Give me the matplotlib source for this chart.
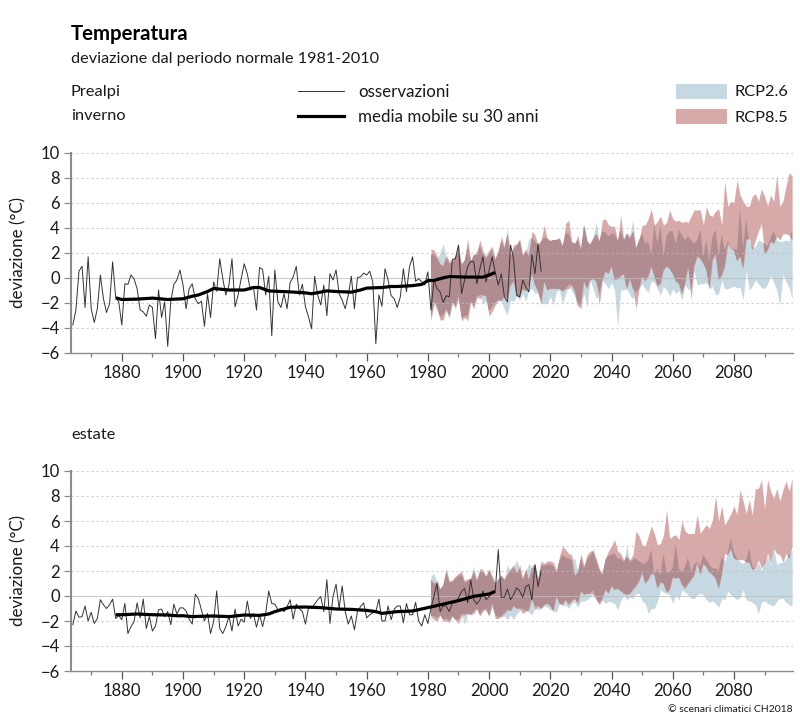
#!/usr/bin/env python3
"""Temperature deviation chart for the Prealps, winter and summer."""
import matplotlib
matplotlib.use("Agg")
import matplotlib.pyplot as plt
import numpy as np
from matplotlib.patches import Rectangle
from matplotlib.lines import Line2D

plt.rcParams["font.family"] = ["Lato", "DejaVu Sans"]

OBS_YEARS = np.arange(1864, 2018)
BAND_YEARS = np.arange(1981, 2100)

# winter observations, 1864-2017
WINTER_OBS = [
    -3.8, -2.6, 0.5, 0.9, -2.4, 1.65,
    -2.5, -3.6, -2.5, 0.2, -1.7, -2.8, -2.1, 1.25, -1.6, -1.95,
    -3.8, -0.5, -0.55, 0.2, -0.1, -0.9, -2.6, -2.75, -3.1, -2.2,
    -2.4, -4.9, -1.0, -3.2, -1.95, -5.5, -1.9, -0.55, -0.2, 0.6,
    -0.6, -2.5, -0.9, -0.5, -1.7, -2.1, -1.9, -3.9, -1.3, -3.2,
    -0.35, -1.1, 1.5, -0.1, -1.4, -0.6, 1.5, -2.35, -1.4, -0.1,
    1.1, 0.3, -1.0, -0.75, -2.6, 0.8, 0.65, -1.4, 0.1, -4.65,
    0.6, -1.95, -2.4, -1.3, -2.5, -0.4, 0.05, 0.9, -1.4, -0.55,
    -2.35, -3.15, -4.1, 0.1, -1.4, -2.2, -0.6, -3.05, 0.3, -0.2,
    0.6, -1.3, -1.8, -2.5, -1.4, 0.1, -2.5, 0.0, 0.05, 0.35,
    0.2, 0.5, -0.35, -5.3, -1.4, -2.3, 0.7, -0.2, -1.45, -1.7,
    -2.4, -1.55, 0.7, -1.15, 0.85, 1.65, -0.3, -0.1, -0.35, -0.6,
    0.45, -2.6, -0.2, -0.9, -1.15, -2.0, -1.45, -1.55, 1.45, 1.5,
    2.6, -1.3, -0.2, 0.85, 1.3, 1.25, -0.5, 0.7, 1.65, -0.35,
    0.6, 1.65, 0.45, -0.6, 0.3, -1.55, -1.95, 2.6, 1.5, -1.4,
    -1.55, -0.2, -0.75, -1.15, 1.85, 0.3, 2.7, 0.5,
]
WINTER_MEAN_YEARS = [
    1878, 1880, 1885, 1890, 1895, 1900, 1903, 1905, 1908, 1910, 1915, 1920,
    1923, 1925, 1928, 1930, 1935, 1940, 1942, 1945, 1947, 1950, 1955, 1958,
    1960, 1965, 1968, 1970, 1975, 1978, 1980, 1982, 1985, 1987, 1990, 1993,
    1995, 1998, 2000, 2002,
]
WINTER_MEAN = [
    -1.63, -1.76, -1.73, -1.65, -1.76, -1.7, -1.5, -1.4, -1.12, -0.88, -1.0, -1.0,
    -0.8, -0.8, -1.07, -1.1, -1.15, -1.23, -1.3, -1.17, -1.07, -1.12, -1.17, -1.0,
    -0.85, -0.8, -0.72, -0.72, -0.65, -0.55, -0.25, -0.23, -0.03, 0.07, 0.05, 0.03,
    0.03, 0.03, 0.2, 0.4,
]
WINTER_R85_HI = [
    2.3, 2.2, 1.7, 1.1, 0.9, 1.8, 1.3, 1.4, 1.8, 2.6,
    1.0, 1.5, 3.1, 1.4, 1.8, 2.1, 3.0, 2.1, 1.7, 2.2,
    2.5, 1.5, 2.1, 3.3, 2.5, 3.5, 1.8, 2.6, 2.7, 3.1,
    1.8, 2.3, 1.7, 3.7, 3.4, 2.6, 3.0, 4.2, 3.1, 2.9,
    3.0, 3.0, 3.1, 2.5, 4.3, 4.6, 2.9, 2.7, 3.4, 2.2,
    4.2, 3.0, 2.6, 3.1, 3.5, 2.9, 4.6, 4.7, 4.2, 4.1,
    4.1, 2.9, 5.0, 3.0, 3.5, 3.1, 3.7, 2.3, 3.0, 4.2,
    4.2, 4.7, 5.5, 4.2, 4.5, 4.9, 4.2, 4.4, 5.4, 4.7,
    4.5, 4.6, 4.4, 4.5, 4.4, 4.9, 5.4, 5.4, 5.4, 4.2,
    5.7, 5.0, 4.9, 5.3, 5.5, 4.2, 7.7, 5.7, 6.1, 6.0,
    7.8, 6.6, 6.1, 5.7, 5.7, 6.5, 6.7, 6.1, 7.1, 6.5,
    5.7, 6.6, 6.1, 8.2, 5.7, 6.1, 7.3, 8.4, 8.1,
]
WINTER_R85_LO = [
    -3.5, -1.9, -2.3, -3.4, -3.4, -2.5, -3.1, -1.9, -2.5, -1.5,
    -3.5, -3.1, -3.5, -1.9, -2.5, -1.5, -1.7, -1.4, -1.5, -3.1,
    -2.7, -2.2, -1.8, -1.9, -1.5, -1.7, -0.6, -0.3, -1.5, -1.5,
    -0.9, -1.1, -0.6, 0.3, -0.6, -1.1, -2.2, -0.3, -1.0, -0.9,
    -0.9, -0.9, -0.9, -1.1, -0.9, -0.9, -0.6, -1.1, -2.2, -2.5,
    -0.3, -0.9, -0.2, -0.1, -0.3, -2.2, -0.2, 0.5, 0.3, 0.9,
    -0.2, -0.1, 0.1, 0.3, -0.9, -0.1, -0.9, -2.5, -0.9, 0.1,
    -0.3, 0.1, 0.9, 0.1, -0.7, -0.5, 0.6, 0.9, 0.7, 0.3,
    -0.3, -0.5, -1.3, -0.5, 0.9, -1.8, 0.9, 1.7, 1.5, 1.1,
    0.6, -0.9, 1.4, 1.9, -0.2, 0.2, 0.9, 2.7, 2.3, 2.2,
    1.3, 1.7, 0.7, 3.0, 3.1, 2.2, 3.0, 3.7, 4.3, 1.9,
    2.2, 2.9, 2.7, 3.3, 3.0, 3.5, 3.5, 3.4, 3.0,
]
WINTER_R26_HI = [
    1.8, 1.9, 1.5, 2.0, 2.7, 1.6, 1.1, 1.2, 1.6, 2.1,
    1.2, 1.3, 2.5, 1.2, 1.9, 1.8, 2.5, 1.9, 1.5, 1.9,
    2.2, 1.4, 2.0, 2.9, 2.3, 4.0, 1.6, 2.3, 2.5, 2.9,
    1.7, 2.1, 3.1, 3.2, 2.9, 2.5, 2.9, 3.2, 3.2, 3.0,
    3.0, 3.1, 3.2, 2.5, 3.5, 3.5, 2.8, 2.7, 3.0, 2.3,
    4.3, 2.9, 2.7, 3.2, 4.4, 2.9, 3.7, 3.6, 3.3, 3.5,
    3.5, 2.9, 3.8, 3.0, 3.6, 3.4, 4.6, 2.4, 3.0, 3.5,
    2.7, 2.9, 1.8, 4.3, 2.7, 4.2, 1.7, 3.3, 3.7, 3.7,
    2.7, 3.8, 3.4, 3.0, 3.3, 3.0, 2.7, 3.0, 3.8, 1.7,
    3.0, 1.3, 3.3, 3.8, 1.7, 3.4, 2.2, 2.9, 2.3, 2.3,
    2.2, 5.5, 2.4, 4.6, 2.9, 2.4, 2.5, 3.0, 2.9, 2.7,
    2.5, 3.2, 3.7, 3.0, 2.9, 2.9, 3.0, 2.9, 3.8,
]
WINTER_R26_LO = [
    -3.3, -2.2, -2.7, -3.2, -3.0, -2.7, -3.3, -2.1, -2.3, -1.8,
    -3.2, -3.3, -3.0, -2.0, -2.3, -1.7, -1.4, -2.1, -1.9, -2.7,
    -2.3, -2.0, -1.9, -1.8, -2.6, -3.0, -1.8, -1.9, -1.5, -1.8,
    -1.3, -1.9, -1.0, -0.9, -1.3, -1.2, -2.0, -2.1, -2.1, -1.5,
    -2.2, -1.1, -1.0, -2.1, -1.3, -0.6, -1.1, -1.5, -2.4, -2.1,
    -1.3, -2.4, -0.2, -0.9, -1.7, -1.3, -0.2, -0.5, -0.9, -0.4,
    -1.0, -3.9, -1.0, -1.0, -0.9, -1.4, -1.7, -1.2, -0.9, -0.5,
    -0.9, -1.2, -0.3, -0.4, -0.9, -1.4, -0.7, -1.0, -1.5, -0.9,
    -1.3, -1.0, -1.8, -0.6, -0.9, -1.0, 0.6, -0.6, -0.5, -0.5,
    -0.4, -0.9, -0.7, -1.4, -1.3, -0.2, -0.9, -0.9, -0.8, -0.7,
    -0.8, -0.8, -1.8, 0.6, -1.0, -0.7, -0.2, -0.5, -0.8, -0.9,
    -0.5, 0.2, -0.4, -1.0, -2.2, 0.3, -0.3, -0.8, -1.7,
]

# summer observations, 1864-2017
SUMMER_OBS = [
    -2.3, -1.2, -1.7, -1.65, -0.8, -2.0,
    -1.3, -2.2, -1.8, -0.3, -0.7, -1.0, -0.7, -0.25, -1.8, -1.55,
    -1.9, -0.6, -3.0, -2.45, -2.05, -0.55, -1.75, -0.25, -2.6, -1.65,
    -2.8, -2.4, -1.1, -1.05, -1.65, -1.25, -2.3, -0.65, -1.45, -0.95,
    -0.95, -1.2, -1.85, -2.25, 0.15, -0.2, -1.1, -2.0, -1.4, -3.0,
    -2.05, 0.4, -2.6, -3.0, -2.45, -1.65, -2.8, -1.05, -2.4, -1.85,
    -2.1, -0.4, -1.8, -1.4, -2.5, -1.5, -2.45, -1.4, 0.4, -0.6,
    -0.65, -1.1, -1.0, -1.25, -0.85, -0.3, -1.85, -0.65, -1.0, -1.25,
    -2.25, -0.95, -0.95, -0.65, -0.3, -0.05, -1.25, 1.3, -2.2, -0.05,
    0.95, -1.0, 0.8, -1.25, -2.25, -1.6, -2.7, -1.25, -0.85, -0.55,
    -1.75, -1.5, -1.35, -1.25, -0.25, -2.0, -2.0, -0.8, -1.9, -1.05,
    -0.8, -0.8, -2.15, -0.6, -1.5, -1.5, -0.5, -2.0, -2.4, -1.5,
    -2.2, -1.0, 0.0, 1.0, -1.25, -0.8, -0.8, -1.25, -0.55, -0.55,
    -0.15, 0.35, 0.6, -0.55, 1.3, -0.3, -0.65, -0.3, 0.4, -0.3,
    -0.05, 0.25, 0.35, 3.7, -0.1, -0.1, 0.55, -0.3, 0.1, 0.65,
    0.4, -0.1, 0.75, 0.9, -0.3, 2.5, 0.75, 2.0,
]
SUMMER_MEAN_YEARS = [
    1878, 1880, 1885, 1890, 1895, 1898, 1900, 1903, 1905, 1910, 1915, 1920,
    1925, 1928, 1930, 1933, 1935, 1940, 1945, 1950, 1955, 1960, 1963, 1965,
    1970, 1975, 1980, 1985, 1990, 1995, 2000, 2002,
]
SUMMER_MEAN = [
    -1.5, -1.5, -1.44, -1.5, -1.52, -1.58, -1.58, -1.65, -1.63, -1.6, -1.65, -1.52,
    -1.55, -1.44, -1.25, -1.04, -0.9, -0.88, -0.93, -1.04, -1.07, -1.15, -1.25, -1.39,
    -1.25, -1.2, -0.93, -0.65, -0.37, -0.03, 0.16, 0.37,
]
SUMMER_R85_HI = [
    1.3, 1.0, 1.3, 0.6, 1.0, 2.2, 1.2, 1.3, 1.6, 1.8,
    2.0, 1.2, 1.4, 1.4, 2.0, 1.3, 2.2, 2.1, 1.6, 2.2,
    1.6, 1.0, 1.4, 1.7, 1.3, 1.7, 2.2, 2.5, 1.8, 2.5,
    1.4, 2.2, 1.3, 2.4, 2.6, 1.3, 2.8, 2.6, 2.8, 2.8,
    2.7, 2.0, 3.2, 4.0, 3.7, 3.4, 3.3, 1.6, 2.0, 3.4,
    2.4, 3.3, 3.6, 3.6, 3.0, 2.2, 1.7, 3.0, 3.6, 4.0,
    4.5, 3.6, 3.4, 2.9, 3.2, 2.9, 3.3, 5.2, 4.8, 4.1,
    4.0, 4.8, 5.6, 5.0, 4.1, 4.2, 4.9, 6.9, 4.6, 4.8,
    4.9, 4.5, 6.0, 5.2, 5.0, 5.0, 5.0, 6.5, 5.0, 5.4,
    5.7, 5.4, 6.1, 8.0, 6.0, 7.2, 5.7, 6.1, 6.6, 7.2,
    6.5, 8.5, 7.6, 6.6, 7.7, 6.5, 8.6, 8.6, 9.3, 7.0,
    9.3, 8.4, 7.8, 8.6, 7.6, 8.5, 9.2, 8.4, 9.4,
]
SUMMER_R85_LO = [
    -1.6, -1.9, -2.0, -1.5, -2.0, -2.0, -2.1, -1.6, -1.9, -2.2,
    -1.6, -1.5, -1.4, -1.5, -1.4, -1.0, -1.6, -1.2, -1.0, -1.6,
    -0.6, -1.8, -1.8, -1.6, -1.4, -1.1, -1.2, -0.8, -1.0, -1.0,
    -1.4, -1.2, -1.1, -0.2, -1.1, -0.8, -1.0, -0.7, -0.6, -0.8,
    -1.2, -0.0, -0.6, -0.7, -0.3, -0.7, -0.4, -0.2, -0.6, 0.4,
    0.1, 0.2, 0.2, 0.1, -0.3, -0.7, -0.2, 0.5, 0.2, 0.8,
    0.5, 0.6, 0.4, 0.2, 0.1, 0.2, 0.5, 0.8, 1.2, 1.9,
    1.0, 1.3, 1.8, 1.7, 0.6, 1.1, 1.0, 0.3, 0.5, 1.5,
    1.4, 1.5, 0.9, 0.6, 1.0, 1.3, 1.7, 2.7, 1.7, 2.6,
    2.3, 1.9, 1.7, 1.4, 0.6, 1.7, 3.4, 3.3, 3.8, 3.0,
    2.9, 2.9, 2.9, 2.7, 2.7, 2.1, 2.2, 2.9, 2.2, 2.6,
    3.4, 2.6, 3.8, 3.4, 3.3, 2.7, 3.4, 3.0, 4.0,
]
SUMMER_R26_HI = [
    1.6, 1.8, 1.0, 0.5, 0.8, 1.9, 1.1, 1.1, 1.4, 1.6,
    1.7, 1.1, 1.2, 1.3, 2.4, 1.2, 1.9, 1.9, 1.5, 2.0,
    1.5, 1.0, 1.3, 1.6, 1.3, 2.5, 2.0, 2.3, 2.9, 2.2,
    1.3, 2.0, 2.6, 2.2, 2.3, 1.3, 2.5, 2.4, 2.5, 2.5,
    2.4, 1.9, 2.8, 3.3, 3.1, 3.0, 2.9, 3.0, 1.9, 3.0,
    2.2, 2.9, 3.2, 3.8, 2.8, 2.1, 1.7, 2.9, 3.2, 3.3,
    3.4, 3.0, 3.0, 2.7, 4.1, 2.7, 2.9, 3.0, 2.8, 2.6,
    2.6, 2.9, 3.7, 1.7, 2.2, 1.7, 3.4, 1.9, 1.9, 2.3,
    4.2, 2.2, 1.9, 2.3, 3.1, 1.9, 2.5, 2.7, 2.4, 3.3,
    2.9, 2.5, 2.2, 2.2, 2.0, 3.1, 2.8, 3.5, 4.6, 3.5,
    3.0, 2.7, 2.6, 2.9, 3.8, 2.4, 2.1, 2.7, 2.0, 2.8,
    3.2, 2.5, 3.8, 2.5, 2.7, 2.7, 3.0, 3.3, 3.7,
]
SUMMER_R26_LO = [
    -1.9, -1.6, -1.8, -1.5, -1.9, -1.8, -2.0, -1.6, -1.9, -1.9,
    -1.4, -2.3, -1.4, -1.5, -1.2, -1.0, -1.5, -1.1, -1.2, -1.6,
    -0.9, -1.5, -1.7, -1.7, -1.6, -1.9, -1.5, -1.9, -1.4, -1.2,
    -1.0, -1.2, -1.3, -1.5, -0.9, -1.1, -1.0, -0.8, -0.9, -1.1,
    -1.2, -1.3, -0.6, -0.8, -0.7, -1.0, -0.6, -0.5, -0.9, -0.4,
    -0.4, -0.3, -0.1, 0.5, -0.2, -0.6, -0.3, -0.6, -0.4, -0.5,
    -0.6, -1.1, -0.4, 0.1, -0.3, -0.1, -0.2, 0.2, 0.2, -0.4,
    -0.6, -1.4, -1.0, -1.0, -0.4, 0.5, 0.3, 0.2, 0.1, -0.6,
    0.1, -0.3, 0.5, 0.3, 0.1, -0.2, -0.2, 0.1, 0.2, 0.1,
    -0.3, -0.5, -0.4, -0.6, -0.9, -0.2, -0.3, 0.4, 0.1, -0.1,
    -0.3, -0.1, 0.5, -0.3, -0.4, -0.5, -0.7, -1.4, -0.5, -0.4,
    -0.6, -0.7, -0.8, -0.4, -0.2, -0.2, -0.5, -0.7, -0.8,
]

X_TICKS = [1880, 1900, 1920, 1940, 1960, 1980, 2000, 2020, 2040, 2060, 2080]
Y_TICKS = [-6, -4, -2, 0, 2, 4, 6, 8, 10]

W, H = 800, 718
BLUE = "#C6D9E2"
RED = "#D8A9A9"
OVERLAP = "#B08C90"
GRID = "#BDBDBD"
AXIS = "#8C8C8C"
TEXT = "#1A1A1A"


def fx(px):
    return px / W


def fy(py):
    return 1 - py / H


def label(fig, x, y, s, **kw):
    kw.setdefault("fontsize", 11.8)
    kw.setdefault("color", TEXT)
    kw.setdefault("va", "center")
    fig.text(fx(x), fy(y), s, **kw)


def draw_panel(fig, top, bottom, obs, mean_x, mean, r26_lo, r26_hi, r85_lo, r85_hi):
    ax = fig.add_axes([fx(71), fy(bottom), fx(793) - fx(71), fy(top) - fy(bottom)])
    r26_lo, r26_hi = np.array(r26_lo), np.array(r26_hi)
    r85_lo, r85_hi = np.array(r85_lo), np.array(r85_hi)

    ax.fill_between(BAND_YEARS, r26_lo, r26_hi, color=BLUE, lw=0, zorder=1)
    ax.fill_between(BAND_YEARS, r85_lo, r85_hi, color=RED, lw=0, zorder=1.1)
    # both scenarios together come out darker
    lo = np.maximum(r26_lo, r85_lo)
    hi = np.minimum(r26_hi, r85_hi)
    ax.fill_between(BAND_YEARS, lo, hi, where=hi > lo, interpolate=True,
                    color=OVERLAP, lw=0, zorder=1.2)

    ax.plot(OBS_YEARS, obs, color="#333333", lw=0.7, zorder=3)
    ax.plot(mean_x, mean, color="black", lw=2.3, zorder=4, solid_capstyle="butt")

    ax.set_xlim(1863.4, 2099.3)
    ax.set_ylim(-6, 10)
    ax.set_xticks(X_TICKS)
    ax.set_xticks(np.arange(1870, 2100, 20), minor=True)
    ax.set_yticks(Y_TICKS)
    ax.tick_params(axis="x", which="major", length=6, width=0.9, color="#555555",
                   labelsize=12, labelcolor=TEXT, pad=3)
    ax.tick_params(axis="x", which="minor", length=3, width=0.9, color="#777777")
    ax.tick_params(axis="y", length=5, width=0.9, color=AXIS,
                   labelsize=12, labelcolor=TEXT, pad=3)

    for v in Y_TICKS[1:]:
        if v == 0:
            ax.axhline(v, color=GRID, lw=0.8, alpha=0.75, zorder=2)
        else:
            ax.axhline(v, color=GRID, lw=0.8, ls=(0, (2, 2.5)), alpha=0.75, zorder=2)

    ax.spines["top"].set_visible(False)
    ax.spines["right"].set_visible(False)
    ax.spines["left"].set_color(AXIS)
    ax.spines["left"].set_linewidth(1.5)
    ax.spines["bottom"].set_color(AXIS)
    ax.spines["bottom"].set_linewidth(1.0)
    ax.set_ylabel("deviazione (°C)", fontsize=12.2, color=TEXT, labelpad=10)
    return ax


def main():
    fig = plt.figure(figsize=(W / 100, H / 100), dpi=100, facecolor="white")

    draw_panel(fig, 152.5, 352.5, WINTER_OBS, WINTER_MEAN_YEARS, WINTER_MEAN,
               WINTER_R26_LO, WINTER_R26_HI, WINTER_R85_LO, WINTER_R85_HI)
    draw_panel(fig, 471, 671, SUMMER_OBS, SUMMER_MEAN_YEARS, SUMMER_MEAN,
               SUMMER_R26_LO, SUMMER_R26_HI, SUMMER_R85_LO, SUMMER_R85_HI)

    label(fig, 71, 34, "Temperatura", fontsize=14.7, fontweight="bold", color="black")
    label(fig, 71, 59, "deviazione dal periodo normale 1981-2010", fontsize=11.7)
    label(fig, 71, 92, "Prealpi")
    label(fig, 71, 116, "inverno")
    label(fig, 71, 435, "estate")

    # legend, placed by hand like the original layout
    fig.add_artist(Line2D([fx(298), fx(344)], [fy(91), fy(91)], color="#333333", lw=0.7))
    fig.add_artist(Line2D([fx(298), fx(344)], [fy(116), fy(116)], color="black", lw=2.3))
    label(fig, 358, 92, "osservazioni", fontsize=12.2)
    label(fig, 358, 117, "media mobile su 30 anni", fontsize=12.2)
    for py, color, name in [(84, BLUE, "RCP2.6"), (109, RED, "RCP8.5")]:
        fig.add_artist(Rectangle((fx(676), fy(py + 15)), fx(727) - fx(676), 15 / H,
                                 transform=fig.transFigure, facecolor=color, lw=0))
        label(fig, 735, py + 8.5, name)

    label(fig, 793, 710, "© scenari climatici CH2018", fontsize=7.5, ha="right")

    fig.savefig("out.png", dpi=100, facecolor="white")
    plt.close(fig)


if __name__ == "__main__":
    main()
